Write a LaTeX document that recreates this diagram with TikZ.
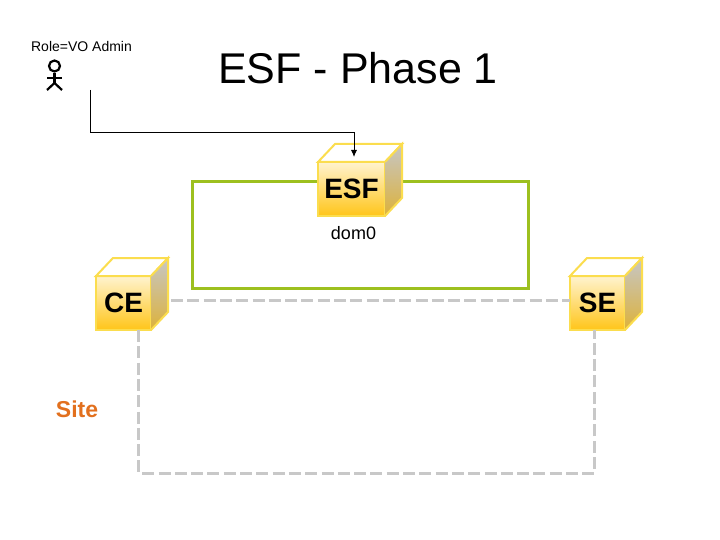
\documentclass[tikz,border=0pt]{standalone}
\usepackage{fontspec}
\setmainfont{Liberation Sans}
\usetikzlibrary{positioning,arrows.meta}
\definecolor{cubeline}{HTML}{FBDD4E}
\definecolor{cubelow}{HTML}{FFC519}
\definecolor{cubehigh}{HTML}{FFF3CF}
\definecolor{cubegray}{HTML}{C6C6C6}
\definecolor{cubeamber}{HTML}{DDB23A}
\definecolor{domgreen}{HTML}{9DC01F}
\definecolor{sitegray}{HTML}{C8C8C8}
\definecolor{siteorange}{HTML}{E2701E}
\tikzset{node distance=2cm, auto}
\tikzset{
  cubefront/.style={draw=cubeline, line width=2pt, top color=cubehigh, bottom color=cubelow,
    minimum width=55pt, minimum height=54pt, inner sep=0pt, outer sep=0pt,
    font=\fontsize{28}{28}\selectfont\bfseries},
  domline/.style={draw=domgreen, line width=3pt, minimum width=336pt, minimum height=107pt, inner sep=0pt},
  siteline/.style={draw=sitegray, line width=3pt, dash pattern=on 12pt off 4.3pt},
  actorline/.style={draw=black, line width=2.2pt}
}
% top and side faces of a cube, from the corners of its front node
\newcommand{\cubeback}[1]{
  \draw [cubeline, line width=2pt, fill=white] (#1.north west) -- ++(17,-18) -- ++(\cubewide,0) -- (#1.north east) -- cycle;
  \shade [top color=cubegray, bottom color=cubeamber] (#1.north east) -- ++(17,-18) -- ++(0,54) -- (#1.south east) -- cycle;
  \draw [cubeline, line width=2pt] (#1.north east) -- ++(17,-18) -- ++(0,54) -- (#1.south east);
}
\begin{document}
\begin{tikzpicture}[x=1pt, y=-1pt]

             \useasboundingbox (0,0) rectangle (720,540);

             \node (title) at (358,68) {\fontsize{43}{43}\selectfont ESF - Phase 1};
             \node (role) at (81.5,46) {\fontsize{14}{14}\selectfont Role=VO Admin};

             \node (head) [circle, actorline, minimum size=11pt, inner sep=0pt] at (54.5,66) {};
             \coordinate (hip) at (54.5,83);
             \coordinate (armL) at (47,78);
             \coordinate (armR) at (62,78);
             \coordinate (footL) at (47,90);
             \coordinate (footR) at (62,90);
             \draw [actorline] (head) -- (hip);
             \draw [actorline] (armL) -- (armR);
             \draw [actorline] (footL) -- (hip) -- (footR);

             \node (dom) [domline] at (360,235) {};

             \node (ESF) [cubefront, minimum width=67pt] at (351.5,189) {ESF};
             \def\cubewide{67}
             \cubeback{ESF}

             \node (dom0) [below of=ESF, node distance=44pt, xshift=2pt] {\fontsize{18}{18}\selectfont dom0};

             \node (CE) [cubefront] at (123.5,303) {CE};
             \def\cubewide{55}
             \cubeback{CE}

             \node (SE) [cubefront, right of=CE, node distance=474pt] {SE};
             \cubeback{SE}

             \node (Site) at (77,409) {\fontsize{23}{23}\selectfont\bfseries\color{siteorange} Site};

             \coordinate (admin) at (90,90);
             \coordinate (bendA) at (90,132);
             \coordinate (bendB) at (354,132);
             \coordinate (entry) at (354,157);
             \draw [-{Latex[length=7pt,width=6pt]}, line width=0.9pt] (admin) -- (bendA) -- (bendB) -- (entry);

             \coordinate (loopA) at (138.5,473);
             \coordinate (loopB) at (594.5,473);
             \draw [siteline] ([xshift=20pt,yshift=3pt]CE.east) -- ([yshift=3pt]SE.west);
             \draw [siteline] ([xshift=15pt]CE.south) -- (loopA) -- (loopB) -- ([xshift=-3pt]SE.south);

          \end{tikzpicture}
\end{document}
